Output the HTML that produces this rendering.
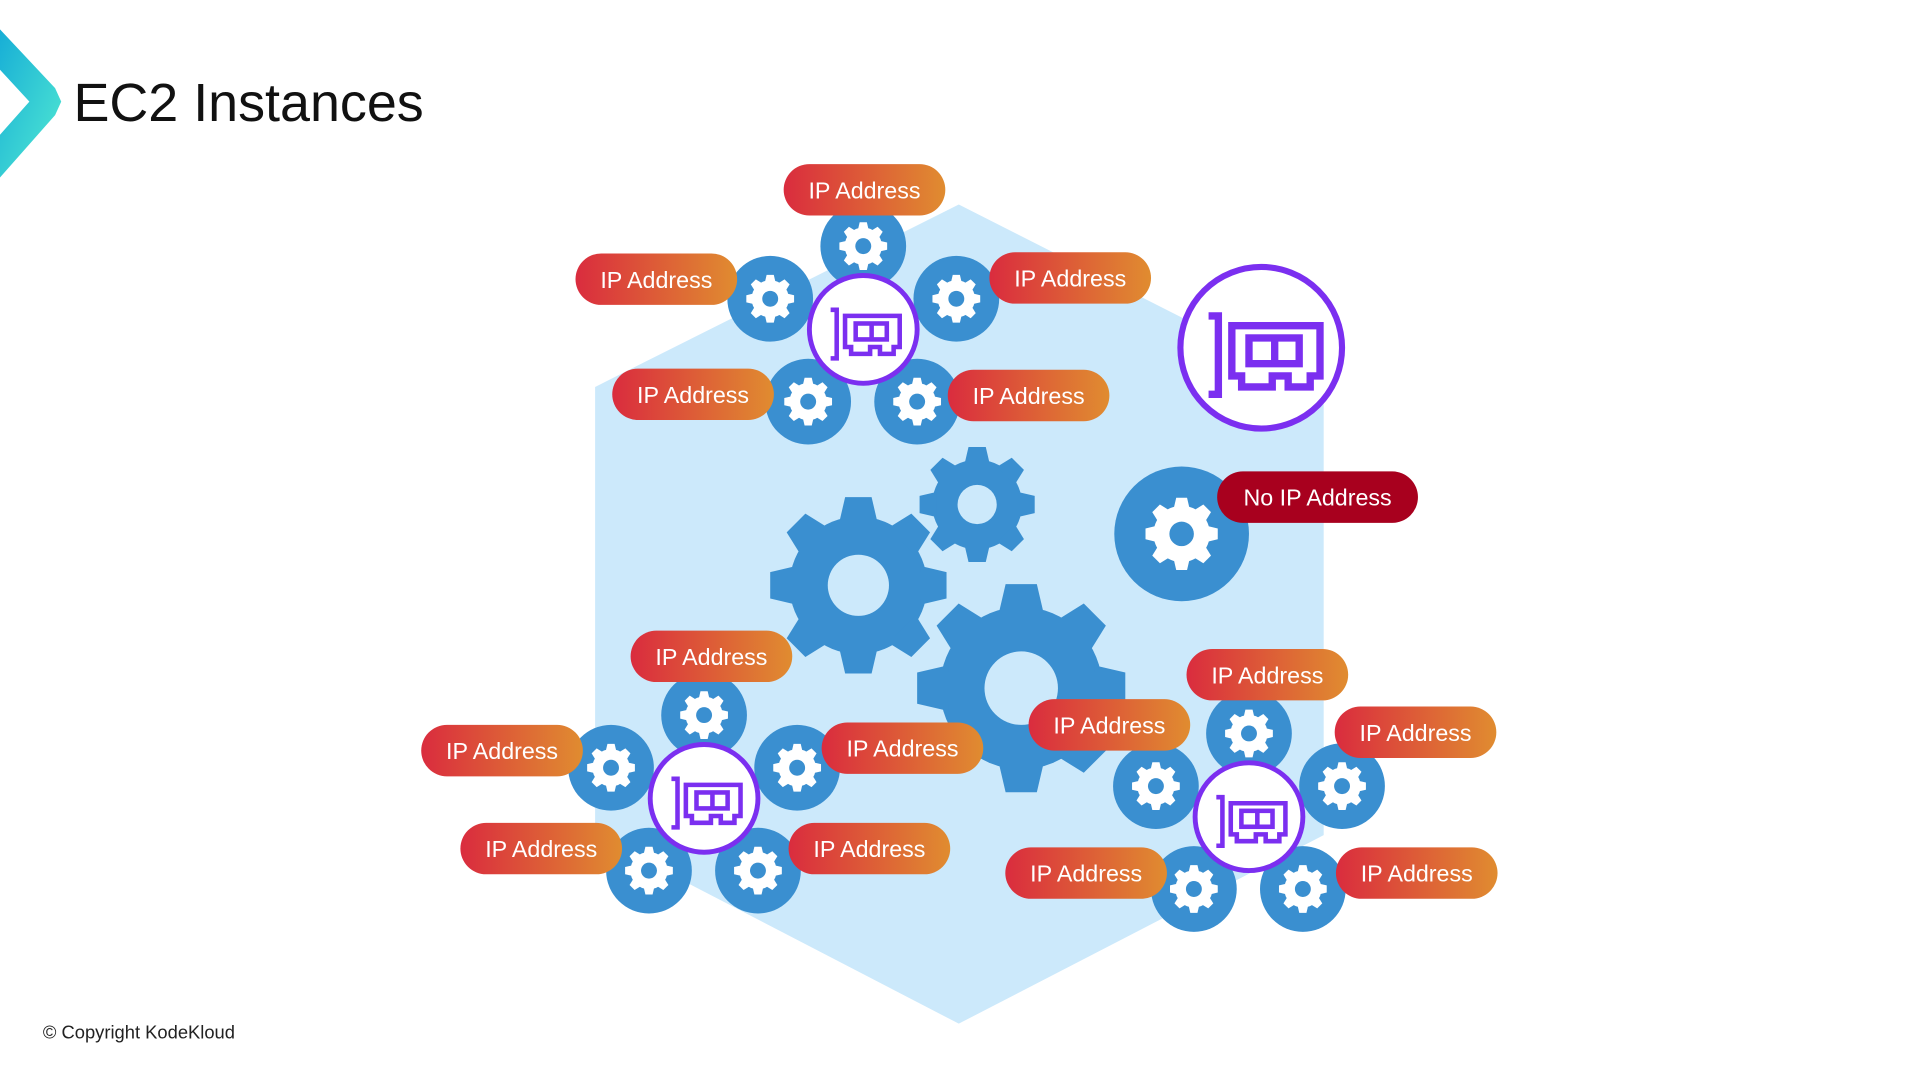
<!DOCTYPE html>
<html><head><meta charset="utf-8"><style>html,body{margin:0;padding:0;background:#fff;width:1920px;height:1080px;overflow:hidden}svg{display:block}</style></head>
<body>
<svg width="1920" height="1080" viewBox="0 0 1568 882" xmlns="http://www.w3.org/2000/svg">
<defs>
<linearGradient id="lg" x1="0" y1="0" x2="1" y2="1"><stop offset="0" stop-color="#17aed6"/><stop offset="1" stop-color="#52ead2"/></linearGradient>
<linearGradient id="pg" x1="0" y1="0" x2="1" y2="0"><stop offset="0" stop-color="#da2c3e"/><stop offset="1" stop-color="#e08c30"/></linearGradient>
<symbol id="gear" viewBox="-1 -1 2 2" overflow="visible">
<circle r="0.78"/>
<g id="tooth"><polygon points="-0.22,-0.7 -0.15,-1 0.15,-1 0.22,-0.7"/></g>
<use href="#tooth" transform="rotate(45)"/><use href="#tooth" transform="rotate(90)"/><use href="#tooth" transform="rotate(135)"/><use href="#tooth" transform="rotate(180)"/><use href="#tooth" transform="rotate(225)"/><use href="#tooth" transform="rotate(270)"/><use href="#tooth" transform="rotate(315)"/>
</symbol>
<g id="nic" fill="none" stroke="#7b2ff0" stroke-width="6" stroke-linejoin="miter">
<path d="M-43,-29 H-35 V35 H-43"/>
<path d="M-24,-21 H48 V20 H40 V29 H22 V20 H9 V29 H-16 V20 H-24 Z"/>
<rect x="-10" y="-11" width="41" height="21"/>
<line x1="11" y1="-11" x2="11" y2="10"/>
</g>
</defs>
<polygon points="0,24 45,72 50,83 45,94 0,145 0,110 24,83 0,57" fill="url(#lg)"/>
<text x="60" y="99" font-family="Liberation Sans, sans-serif" font-size="44" fill="#111">EC2 Instances</text>
<polygon points="783,167 1081,318 1081,682 783,836 486,682 486,316" fill="#cce9fb"/>
<g fill="#3a8fd0">
<use href="#gear" x="629" y="406" width="144" height="144"/>
<use href="#gear" x="751" y="365" width="94" height="94"/>
<use href="#gear" x="749" y="477" width="170" height="170"/>
</g>
<g fill="#cce9fb"><circle cx="701" cy="478" r="25"/><circle cx="798" cy="412" r="16"/><circle cx="834" cy="562" r="30"/></g>
<circle cx="1030" cy="284" r="66" fill="#fff" stroke="#7b2ff0" stroke-width="5"/>
<use href="#nic" transform="translate(1030,287)"/>
<circle cx="965" cy="436" r="55" fill="#3a8fd0"/>
<use href="#gear" x="935.5" y="406.5" width="59" height="59" fill="#fff"/>
<circle cx="965" cy="436" r="10" fill="#3a8fd0"/>
<rect x="994" y="385" width="164" height="42" rx="21" fill="#a8001e"/>
<text x="1076" y="413" text-anchor="middle" font-family="Liberation Sans, sans-serif" font-size="19" fill="#fff">No IP Address</text>

<g id="grp1">
<g fill="#3a8fd0"><circle cx="705" cy="201" r="35"/><circle cx="629" cy="244" r="35"/><circle cx="781" cy="244" r="35"/><circle cx="660" cy="328" r="35"/><circle cx="749" cy="328" r="35"/></g>
<g fill="#fff"><use href="#gear" x="685.5" y="181.5" width="39" height="39"/><use href="#gear" x="609.5" y="224.5" width="39" height="39"/><use href="#gear" x="761.5" y="224.5" width="39" height="39"/><use href="#gear" x="640.5" y="308.5" width="39" height="39"/><use href="#gear" x="729.5" y="308.5" width="39" height="39"/></g>
<g fill="#3a8fd0"><circle cx="705" cy="201" r="6.5"/><circle cx="629" cy="244" r="6.5"/><circle cx="781" cy="244" r="6.5"/><circle cx="660" cy="328" r="6.5"/><circle cx="749" cy="328" r="6.5"/></g>
<circle cx="705" cy="269" r="44" fill="#fff" stroke="#7b2ff0" stroke-width="4"/>
<use href="#nic" transform="translate(705,271) scale(0.62)"/>
</g>
<use href="#grp1" transform="translate(-130,383)"/>
<use href="#grp1" transform="translate(315,398)"/>

<g font-family="Liberation Sans, sans-serif" font-size="19" fill="#fff" text-anchor="middle">
<rect x="640" y="134" width="132" height="42" rx="21" fill="url(#pg)"/><text x="706" y="162">IP Address</text>
<rect x="470" y="207" width="132" height="42" rx="21" fill="url(#pg)"/><text x="536" y="235">IP Address</text>
<rect x="808" y="206" width="132" height="42" rx="21" fill="url(#pg)"/><text x="874" y="234">IP Address</text>
<rect x="500" y="301" width="132" height="42" rx="21" fill="url(#pg)"/><text x="566" y="329">IP Address</text>
<rect x="774" y="302" width="132" height="42" rx="21" fill="url(#pg)"/><text x="840" y="330">IP Address</text>
<rect x="515" y="515" width="132" height="42" rx="21" fill="url(#pg)"/><text x="581" y="543">IP Address</text>
<rect x="344" y="592" width="132" height="42" rx="21" fill="url(#pg)"/><text x="410" y="620">IP Address</text>
<rect x="671" y="590" width="132" height="42" rx="21" fill="url(#pg)"/><text x="737" y="618">IP Address</text>
<rect x="376" y="672" width="132" height="42" rx="21" fill="url(#pg)"/><text x="442" y="700">IP Address</text>
<rect x="644" y="672" width="132" height="42" rx="21" fill="url(#pg)"/><text x="710" y="700">IP Address</text>
<rect x="969" y="530" width="132" height="42" rx="21" fill="url(#pg)"/><text x="1035" y="558">IP Address</text>
<rect x="840" y="571" width="132" height="42" rx="21" fill="url(#pg)"/><text x="906" y="599">IP Address</text>
<rect x="1090" y="577" width="132" height="42" rx="21" fill="url(#pg)"/><text x="1156" y="605">IP Address</text>
<rect x="821" y="692" width="132" height="42" rx="21" fill="url(#pg)"/><text x="887" y="720">IP Address</text>
<rect x="1091" y="692" width="132" height="42" rx="21" fill="url(#pg)"/><text x="1157" y="720">IP Address</text>
</g>
<text x="35" y="848" font-family="Liberation Sans, sans-serif" font-size="15" fill="#222">© Copyright KodeKloud</text>
</svg>
</body></html>
